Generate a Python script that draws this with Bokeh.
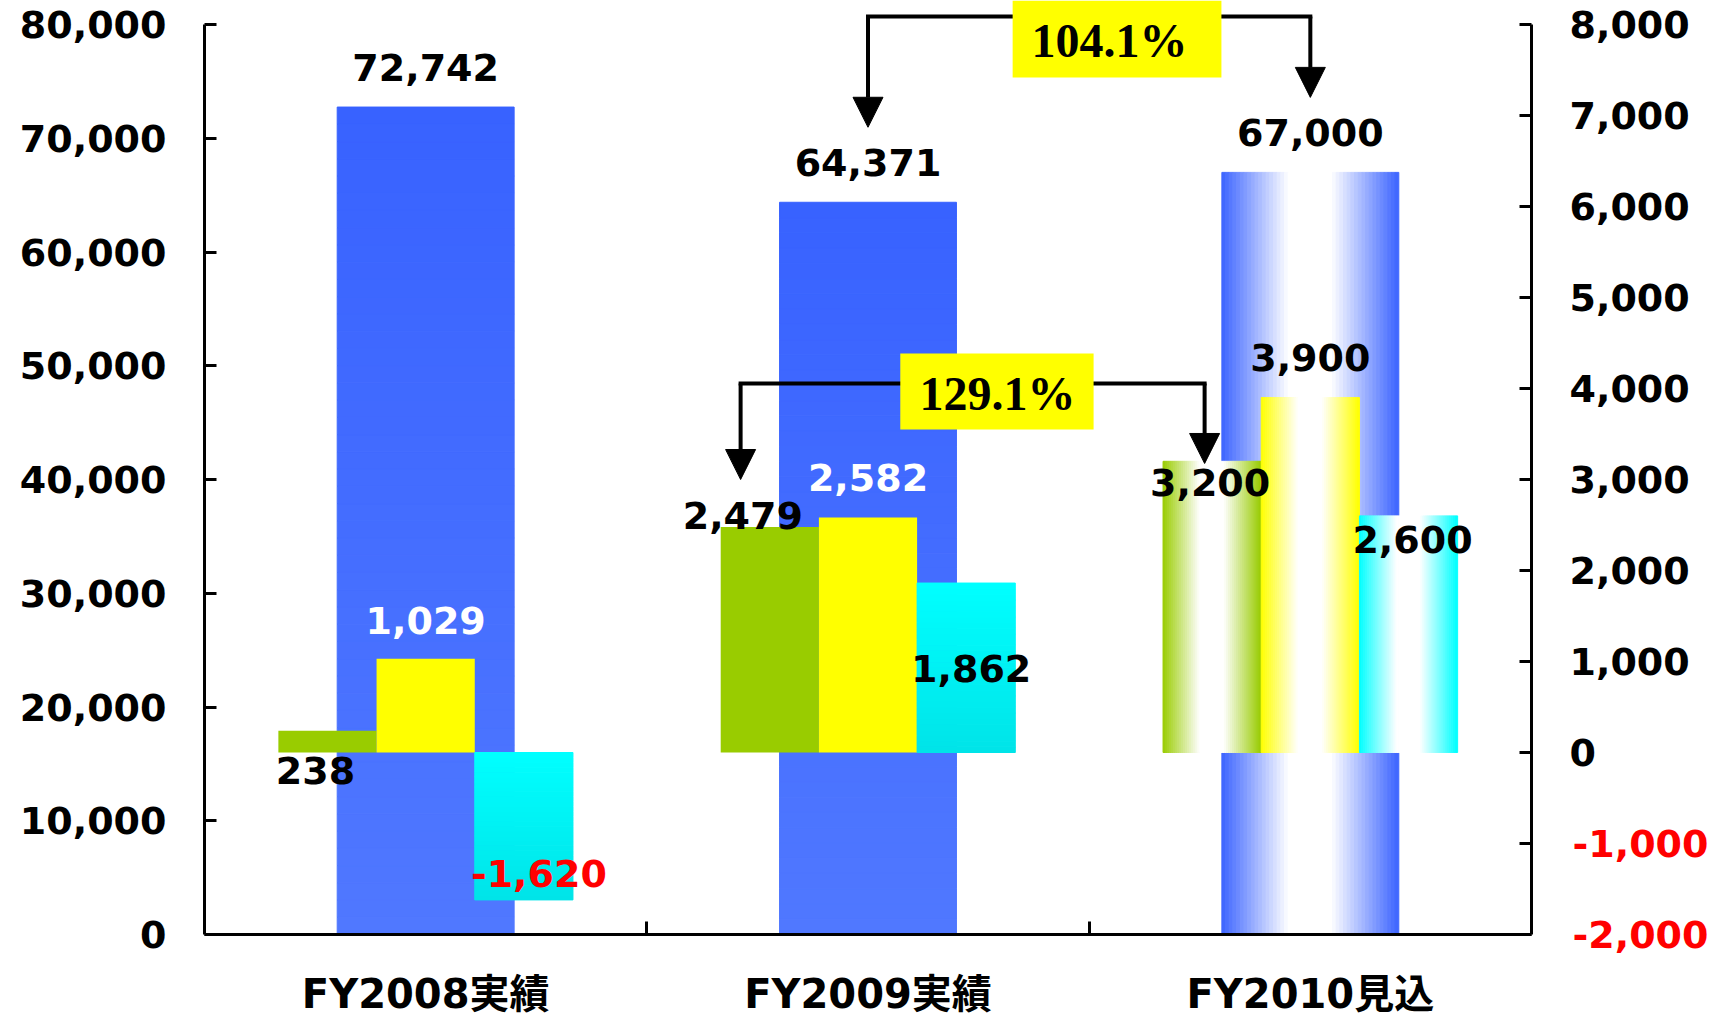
from bokeh.plotting import figure
from bokeh.models import (Range1d, LinearAxis, FixedTicker, NumeralTickFormatter,
                          CustomJSTickFormatter, Arrow, NormalHead, ColumnDataSource)
from bokeh.core.properties import value
from bokeh.embed import file_html
from bokeh.resources import INLINE

# ---- data -------------------------------------------------------------
categories = ["FY2008実績", "FY2009実績", "FY2010見込"]
sales = [72742, 64371, 67000]            # left axis (blue)
profit_green = [238, 2479, 3200]         # right axis
profit_yellow = [1029, 2582, 3900]       # right axis
profit_cyan = [-1620, 1862, 2600]        # right axis
left_ticks = [0, 10000, 20000, 30000, 40000, 50000, 60000, 70000, 80000]
right_ticks = [0, 1000, 2000, 3000, 4000, 5000, 6000, 7000, 8000]
right_neg_ticks = [-2000, -1000]

# ---- layout constants -------------------------------------------------
W, H = 1719, 1019
B_LEFT, B_RIGHT, B_TOP, B_BOTTOM = 204, 188, 0, 85
FRAME_H = H - B_TOP - B_BOTTOM
AXIS_H = 910                               # pixels spanned by 0..80000
L_MAX, R_MIN, R_MAX = 80000, -2000, 8000
L_TOP = L_MAX * FRAME_H / AXIS_H
R_TOP = R_MIN + (R_MAX - R_MIN) * FRAME_H / AXIS_H
L_PX = L_MAX / AXIS_H                      # left-axis units per pixel

FONT = "DejaVu Sans, Noto Sans CJK JP"
TICK_SIZE = 38
STANDOFF = 38
BLUE_W = 0.40
SMALL_W = 0.222
N_STRIPS = 48

def hex2rgb(h):
    h = h.lstrip("#")
    return tuple(int(h[i:i + 2], 16) for i in (0, 2, 4))

def mix(c1, c2, t):
    a, b = hex2rgb(c1), hex2rgb(c2)
    return "#%02x%02x%02x" % tuple(round(a[i] + (b[i] - a[i]) * t) for i in range(3))

def vgrad(p, xc, w, v, c_top, c_bottom, n=N_STRIPS, **kw):
    """Bar from 0 to v, shaded top-to-bottom."""
    lo, hi = min(0, v), max(0, v)
    src = dict(left=[], right=[], top=[], bottom=[], color=[])
    for k in range(n):
        src["left"].append(xc - w / 2)
        src["right"].append(xc + w / 2)
        src["bottom"].append(lo + (hi - lo) * k / n)
        src["top"].append(lo + (hi - lo) * (k + 1) / n)
        src["color"].append(mix(c_top, c_bottom, 1 - (k + 0.5) / n))
    p.quad(left="left", right="right", top="top", bottom="bottom", source=ColumnDataSource(src),
           fill_color="color", line_color="color", line_width=1, **kw)

def hgrad(p, xc, w, v, edge, n=N_STRIPS, **kw):
    """Bar from 0 to v, shaded edge -> white -> edge across its width."""
    src = dict(left=[], right=[], top=[], bottom=[], color=[])
    for k in range(n):
        t = (k + 0.5) / n
        f = max(0.0, min(1.0, (0.5 - abs(t - 0.5)) / 0.38))
        src["left"].append(xc - w / 2 + w * k / n)
        src["right"].append(xc - w / 2 + w * (k + 1) / n)
        src["bottom"].append(min(0, v))
        src["top"].append(max(0, v))
        src["color"].append(mix(edge, "#ffffff", f))
    p.quad(left="left", right="right", top="top", bottom="bottom", source=ColumnDataSource(src),
           fill_color="color", line_color="color", line_width=1, **kw)

p = figure(width=W, height=H, x_range=Range1d(0, 3), y_range=Range1d(0, L_TOP),
           output_backend="svg", toolbar_location=None,
           min_border_left=B_LEFT, min_border_right=B_RIGHT,
           min_border_top=B_TOP, min_border_bottom=B_BOTTOM)
p.extra_y_ranges = {"right": Range1d(R_MIN, R_TOP)}
p.outline_line_color = None
p.xgrid.visible = False
p.ygrid.visible = False
p.background_fill_color = "white"
p.border_fill_color = "white"

centers = [i + 0.5 for i in range(len(categories))]

# ---- sales bars (left axis) --------------------------------------------
for i, (xc, v) in enumerate(zip(centers, sales)):
    if i < 2:
        vgrad(p, xc, BLUE_W, v, "#3862ff", "#5078ff")
    else:
        hgrad(p, xc, BLUE_W, v, "#3c64ff")

# ---- profit bars (right axis) -------------------------------------------
for i, xc in enumerate(centers):
    xg, xy, xcy = xc - SMALL_W, xc, xc + SMALL_W
    if i < 2:
        p.quad(left=[xg - SMALL_W / 2], right=[xg + SMALL_W / 2], bottom=[0], top=[profit_green[i]],
               fill_color="#99cc00", line_color=None, y_range_name="right")
        p.quad(left=[xy - SMALL_W / 2], right=[xy + SMALL_W / 2], bottom=[0], top=[profit_yellow[i]],
               fill_color="#ffff00", line_color=None, y_range_name="right")
        vgrad(p, xcy, SMALL_W, profit_cyan[i], "#00ffff", "#00e4e8", n=30, y_range_name="right")
    else:
        hgrad(p, xg, SMALL_W, profit_green[i], "#99cc00", y_range_name="right")
        hgrad(p, xy, SMALL_W, profit_yellow[i], "#ffff00", y_range_name="right")
        hgrad(p, xcy, SMALL_W, profit_cyan[i], "#00ffff", y_range_name="right")

# ---- growth brackets ----------------------------------------------------
HEAD = 30
LW = 4
# sales growth FY2009 -> FY2010 (left-axis units)
s_growth = "%.1f%%" % (sales[2] / sales[1] * 100)
s_bar_y = 80700
s_tip = [sales[1] + 75 * L_PX, sales[2] + 75 * L_PX]
s_x = [centers[1], centers[2]]
p.line(x=s_x, y=[s_bar_y, s_bar_y], line_width=LW, line_color="black", line_cap="square")
for x, tip in zip(s_x, s_tip):
    p.add_layout(Arrow(end=NormalHead(size=HEAD, fill_color="black", line_color="black"),
                       x_start=x, y_start=s_bar_y, x_end=x, y_end=tip,
                       line_width=LW, line_color="black"))
p.quad(left=[1.827], right=[2.299], top=[L_TOP], bottom=[75341],
       fill_color="#ffff00", line_color=None)
p.text(x=[2.046], y=[78593], text=[s_growth], text_font=value("Liberation Serif"),
       text_font_style="bold", text_font_size="48px", text_align="center",
       text_baseline="middle", text_color="black")

# green profit growth FY2009 -> FY2010 (right-axis units)
g_growth = "%.1f%%" % (profit_green[2] / profit_green[1] * 100)
g_bar_y = 4055
g_x = [1.212, 2.261]
g_tip = [3000, 3176]
p.line(x=g_x, y=[g_bar_y, g_bar_y], line_width=LW, line_color="black", line_cap="square",
       y_range_name="right")
for x, tip in zip(g_x, g_tip):
    p.add_layout(Arrow(end=NormalHead(size=HEAD, fill_color="black", line_color="black"),
                       x_start=x, y_start=g_bar_y, x_end=x, y_end=tip,
                       line_width=LW, line_color="black", y_range_name="right"))
p.quad(left=[1.573], right=[2.010], top=[4385], bottom=[3549],
       fill_color="#ffff00", line_color=None, y_range_name="right")
p.text(x=[1.793], y=[3945], text=[g_growth], text_font=value("Liberation Serif"),
       text_font_style="bold", text_font_size="48px", text_align="center",
       text_baseline="middle", text_color="black", y_range_name="right")

# ---- value labels -------------------------------------------------------
lab_font = dict(text_font=value("DejaVu Sans"), text_font_style="bold",
                text_font_size="38px", text_align="center", text_baseline="middle")

p.text(x=centers, y=sales, text=["{:,}".format(v) for v in sales],
       y_offset=-40, text_color="black", **lab_font)

green_dx, green_dy = [-12, -27, -2], [40, -11, 21]
yellow_dx, yellow_dy = [0, 0, 0], [-38, -40, -40]
cyan_dx, cyan_dy = [15, 5, 4], [-26, 85, 24]
green_col = ["black", "black", "black"]
yellow_col = ["white", "white", "black"]
cyan_col = ["#ff0000", "black", "black"]

for vals, shift, dx, dy, col in [
    (profit_green, -SMALL_W, green_dx, green_dy, green_col),
    (profit_yellow, 0.0, yellow_dx, yellow_dy, yellow_col),
    (profit_cyan, SMALL_W, cyan_dx, cyan_dy, cyan_col),
]:
    src = ColumnDataSource(dict(
        x=[c + shift for c in centers], y=vals,
        text=["{:,}".format(v) for v in vals], dx=dx, dy=dy, col=col))
    p.text(x="x", y="y", text="text", x_offset="dx", y_offset="dy", text_color="col",
           source=src, y_range_name="right", **lab_font)

# ---- axes ---------------------------------------------------------------
def style_axis(ax, size=TICK_SIZE):
    ax.axis_line_width = 3
    ax.axis_line_color = "black"
    ax.major_tick_line_width = 3
    ax.minor_tick_line_width = 3
    ax.major_tick_out = 0
    ax.minor_tick_out = 0
    ax.major_label_text_font = FONT
    ax.major_label_text_font_style = "bold"
    ax.major_label_text_font_size = "%dpx" % size
    ax.major_label_text_color = "black"

ly = p.yaxis[0]
style_axis(ly)
ly.ticker = FixedTicker(ticks=left_ticks, minor_ticks=[])
ly.formatter = NumeralTickFormatter(format="0,0")
ly.bounds = (0, L_MAX)
ly.major_tick_in = 12
ly.major_label_standoff = STANDOFF

# right axis: line, ticks and the non-negative labels
ry = LinearAxis(y_range_name="right")
style_axis(ry)
ry.ticker = FixedTicker(ticks=right_ticks, minor_ticks=right_neg_ticks)
ry.formatter = NumeralTickFormatter(format="0,0")
ry.bounds = (R_MIN, R_MAX)
ry.major_tick_in = 12
ry.minor_tick_in = 12
ry.major_label_standoff = STANDOFF
p.add_layout(ry, "right")

# negative labels of the right axis, in red, pulled back into the same column
# (width of "8,000" in DejaVu Sans Bold: 4 digits * 0.696em + comma 0.380em)
label_w = round((4 * 0.6958 + 0.3799) * TICK_SIZE)
ry_neg = LinearAxis(y_range_name="right")
style_axis(ry_neg)
ry_neg.ticker = FixedTicker(ticks=right_neg_ticks, minor_ticks=[])
ry_neg.formatter = NumeralTickFormatter(format="0,0")
ry_neg.axis_line_color = None
ry_neg.major_tick_line_color = None
ry_neg.minor_tick_line_color = None
ry_neg.major_tick_in = 0
ry_neg.major_label_text_color = "#ff0000"
ry_neg.major_label_standoff = -label_w
p.add_layout(ry_neg, "right")

xa = p.xaxis[0]
style_axis(xa, size=40)
xa.ticker = FixedTicker(ticks=centers, minor_ticks=[1.0, 2.0])
xa.formatter = CustomJSTickFormatter(args=dict(names=categories),
                                     code="return names[Math.floor(tick)];")
xa.major_tick_in = 0
xa.minor_tick_in = 13
xa.major_label_standoff = 36

open("out.html", "w").write(file_html(p, INLINE))
